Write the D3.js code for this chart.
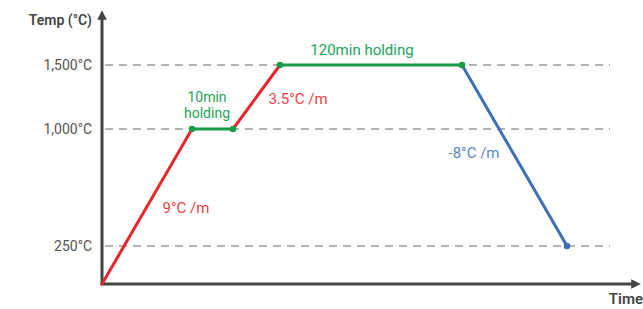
<!DOCTYPE html>
<html lang="en">
<head>
<meta charset="UTF-8">
<title>Temperature profile</title>
<script src="https://cdn.jsdelivr.net/npm/d3@7"></script>
<style>
  body { margin: 0; background: #fff; }
  text { font-family: Roboto, "Noto Sans", sans-serif; }
</style>
</head>
<body>
<svg width="643" height="309"></svg>
<script>
  // schematic profile: time in arbitrary units, temperature in °C
  const times = [0, 90, 131, 178, 360, 465];
  const temps = [0, 1000, 1000, 1500, 1500, 250];
  const segColors = ['#e8262b', '#1b9a48', '#e8262b', '#1b9a48', '#3f6fb6'];
  const tickValues = [250, 1000, 1500];
  const tickLabels = ['250°C', '1,000°C', '1,500°C'];

  const svg = d3.select('svg');
  const x0 = 102, x1 = 640, yBottom = 284;

  const xScale = d3.scaleLinear().domain([0, 538]).range([x0, x1]);
  // the original axis is not to scale, so the scale is piecewise
  const yScale = d3.scaleLinear().domain([0, 250, 1000, 1500]).range([yBottom, 246, 129, 65]);

  // grid
  svg.append('g').selectAll('line')
    .data(tickValues)
    .join('line')
    .attr('x1', x0 + 3).attr('x2', 610)
    .attr('y1', d => yScale(d)).attr('y2', d => yScale(d))
    .attr('stroke', '#999').attr('stroke-width', 1.3)
    .attr('stroke-dasharray', '8,6');

  svg.append('g').selectAll('text')
    .data(tickValues)
    .join('text')
    .attr('x', 92).attr('y', d => yScale(d))
    .attr('dy', '0.35em')
    .attr('text-anchor', 'end')
    .attr('font-size', 14).attr('fill', '#555')
    .text((d, i) => tickLabels[i]);

  // axes with arrows
  svg.append('defs').append('marker')
    .attr('id', 'arrow').attr('viewBox', '0 0 10 10')
    .attr('refX', 5).attr('refY', 5)
    .attr('markerWidth', 3.2).attr('markerHeight', 3.2)
    .attr('orient', 'auto')
    .append('path').attr('d', 'M0,0L10,5L0,10Z').attr('fill', '#444');

  svg.append('line')
    .attr('x1', x0).attr('y1', yBottom).attr('x2', x0).attr('y2', 15)
    .attr('stroke', '#444').attr('stroke-width', 3)
    .attr('marker-end', 'url(#arrow)');
  svg.append('line')
    .attr('x1', x0 - 1.5).attr('y1', yBottom).attr('x2', 636).attr('y2', yBottom)
    .attr('stroke', '#444').attr('stroke-width', 3)
    .attr('marker-end', 'url(#arrow)');

  svg.append('text').attr('x', 92).attr('y', 25)
    .attr('text-anchor', 'end').attr('font-size', 14).attr('font-weight', 600)
    .attr('fill', '#444').text('Temp (°C)');
  svg.append('text').attr('x', 643).attr('y', 304)
    .attr('text-anchor', 'end').attr('font-size', 15).attr('font-weight', 600)
    .attr('fill', '#444').text('Time');

  // segments
  const segs = d3.range(times.length - 1).map(i => ({
    a: [times[i], temps[i]], b: [times[i + 1], temps[i + 1]], color: segColors[i]
  }));
  svg.append('g').selectAll('line')
    .data(segs)
    .join('line')
    .attr('x1', d => xScale(d.a[0])).attr('y1', d => yScale(d.a[1]))
    .attr('x2', d => xScale(d.b[0])).attr('y2', d => yScale(d.b[1]))
    .attr('stroke', d => d.color).attr('stroke-width', 3)
    .attr('stroke-linecap', 'round');

  // points
  const dots = [1, 2, 3, 4, 5];
  svg.append('g').selectAll('circle')
    .data(dots)
    .join('circle')
    .attr('cx', i => xScale(times[i])).attr('cy', i => yScale(temps[i]))
    .attr('r', 3.3)
    .attr('fill', i => i === 5 ? '#3f6fb6' : '#1b9a48');

  // annotations
  const notes = [
    { t: 84, v: 461, lines: ['9°C /m'], color: '#ee3d43', size: 15 },
    { t: 105, v: 1212, lines: ['10min', 'holding'], color: '#23a35a', size: 14 },
    { t: 196, v: 1195, lines: ['3.5°C /m'], color: '#ee3d43', size: 15 },
    { t: 260, v: 1578, lines: ['120min holding'], color: '#23a35a', size: 15 },
    { t: 372, v: 814, lines: ['-8°C /m'], color: '#5a84c6', size: 15 }
  ];
  notes.forEach(n => {
    const t = svg.append('text')
      .attr('x', xScale(n.t)).attr('y', yScale(n.v))
      .attr('text-anchor', 'middle').attr('font-size', n.size)
      .attr('fill', n.color);
    n.lines.forEach((l, i) => {
      t.append('tspan').attr('x', xScale(n.t)).attr('dy', i ? 16.5 : 0).text(l);
    });
  });
</script>
</body>
</html>
